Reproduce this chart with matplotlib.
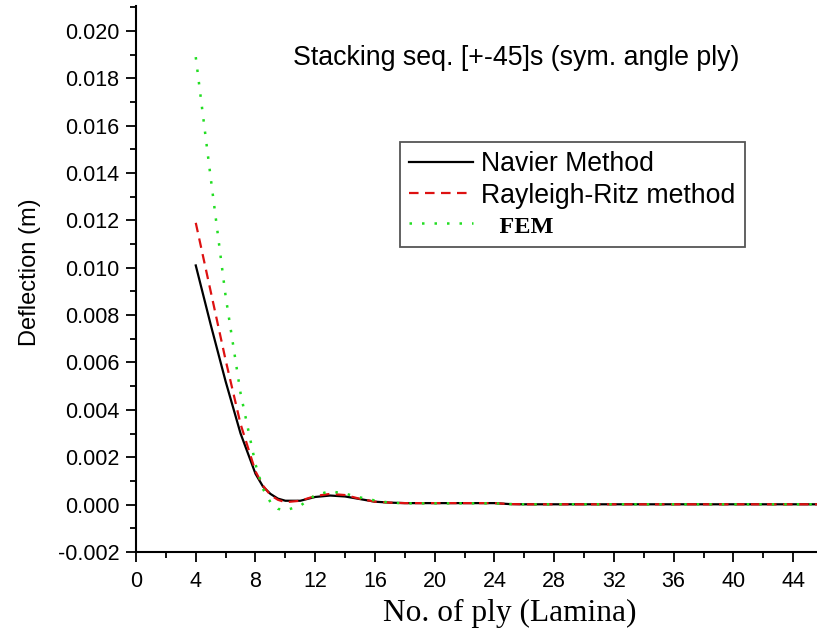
import numpy as np
import matplotlib
matplotlib.use("Agg")
import matplotlib.pyplot as plt
from matplotlib.ticker import MultipleLocator, FormatStrFormatter

plt.rcParams["axes.unicode_minus"] = False
plt.rcParams["font.family"] = ["Liberation Sans", "DejaVu Sans"]

# ------------------------------------------------------------------ #
# data                                        #
# ------------------------------------------------------------------ #
n_ply = [4, 5, 6, 7, 8, 8.5, 9, 9.5, 10, 11, 12, 13, 14, 15, 16, 17, 18,
         20, 22, 24, 25, 26, 28, 30, 32, 34, 36, 38, 40, 42, 44, 46]

navier = [0.0101, 0.0076, 0.0052, 0.0030, 0.0013, 0.00076, 0.00045, 0.00025,
          0.00016, 0.00016, 0.00032, 0.00038, 0.00034, 0.00023, 0.00012,
          0.00008, 0.00006, 0.00006, 0.00006, 0.00006, 0.00002, 0.00001,
          0.00001, 0.00001, 0.00001, 0.00001, 0.00001, 0.00001, 0.00001,
          0.00001, 0.00001, 0.00001]

rayleigh_ritz = [0.0119, 0.0090, 0.0061, 0.0034, 0.0014, 0.00080, 0.00040, 0.00020,
                 0.00010, 0.00016, 0.00036, 0.00045, 0.00040, 0.00024, 0.00012,
                 0.00008, 0.00006, 0.00006, 0.00006, 0.00006, 0.00002, 0.00001,
                 0.00001, 0.00001, 0.00001, 0.00001, 0.00001, 0.00001, 0.00001,
                 0.00001, 0.00001, 0.00001]

fem = [0.0189, 0.0138, 0.0088, 0.0047, 0.0017, 0.00066, 0.00010, -0.00018,
       -0.00025, -0.00005, 0.00040, 0.00056, 0.00046, 0.00030, 0.00017,
       0.00008, 0.00005, 0.00005, 0.00005, 0.00005, 0.00002, 0.00001,
       0.00001, 0.00001, 0.00001, 0.00001, 0.00001, 0.00001, 0.00001,
       0.00001, 0.00001, 0.00001]

labels = ["Navier Method", "Rayleigh-Ritz method", "   FEM"]

# ------------------------------------------------------------------ #
# plotting                                                           #
# ------------------------------------------------------------------ #
fig = plt.figure(figsize=(8.17, 6.30), dpi=100)
ax = fig.add_axes([0.1665, 0.124, 0.8335, 0.8665])

ax.plot(n_ply, navier, color="black", lw=1.6, label=labels[0])
ax.plot(n_ply, rayleigh_ritz, color="#dd1111", lw=1.6, dashes=(4.3, 2.9),
        label=labels[1])
ax.plot(n_ply, fem, color="#22dd22", lw=1.8, dashes=(1.0, 4.0), label=labels[2])

ax.set_xlim(0, 45.6)
ax.set_ylim(-0.002, 0.02106)

ax.xaxis.set_major_locator(MultipleLocator(4))
ax.xaxis.set_minor_locator(MultipleLocator(2))
ax.yaxis.set_major_locator(MultipleLocator(0.002))
ax.yaxis.set_minor_locator(MultipleLocator(0.001))
ax.yaxis.set_major_formatter(FormatStrFormatter("%.3f"))

for side in ("top", "right"):
    ax.spines[side].set_visible(False)
for side in ("left", "bottom"):
    ax.spines[side].set_linewidth(1.5)

ax.tick_params(which="major", direction="out", length=7, width=1.3,
               labelsize=15.5, pad=5)
ax.tick_params(axis="x", which="major", pad=7)
ax.tick_params(which="minor", direction="out", length=4, width=1.3)

ax.set_ylabel("Deflection (m)", fontsize=17)
ax.yaxis.set_label_coords(-0.139, 0.513)
ax.set_xlabel("No. of ply (Lamina)", fontsize=22.6, family="Liberation Serif")
ax.xaxis.set_label_coords(0.549, -0.086)

ax.text(0.5587, 0.905, "Stacking seq. [+-45]s (sym. angle ply)",
        transform=ax.transAxes, ha="center", va="center", fontsize=19.3)

leg = ax.legend(loc="upper left", bbox_to_anchor=(0.3877, 0.751),
                borderaxespad=0, fontsize=19.2, handlelength=2.4,
                handletextpad=0.3, labelspacing=0.2, borderpad=0.35,
                fancybox=False, framealpha=1, edgecolor="#555555")
leg.get_frame().set_linewidth(1.3)
leg.get_texts()[2].set_fontproperties(
    matplotlib.font_manager.FontProperties(family="Liberation Serif",
                                           weight="bold", size=17.5))

fig.savefig("out.png", dpi=100)
